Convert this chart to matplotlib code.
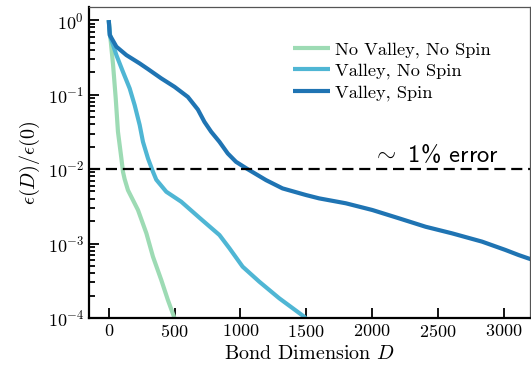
import numpy as np
import matplotlib
matplotlib.use("Agg")
import matplotlib.pyplot as plt

plt.rcParams.update({
    "font.family": "serif",
    "font.serif": ["cmr10"],
    "mathtext.fontset": "cm",
    "axes.unicode_minus": False,
    "axes.formatter.use_mathtext": True,
})

# Bond dimension D and normalized error eps(D)/eps(0) for each model
d_no_valley = [0, 8, 33, 53, 70, 96, 108, 121, 146, 222, 286, 336, 399, 449,
               500, 520]
e_no_valley = [1.0, 0.70, 0.249, 0.089, 0.0317, 0.0139, 0.0092, 0.0073, 0.0052,
               0.00282, 0.00137, 0.000665, 0.000324, 0.000175, 0.0000991,
               0.00008]

d_valley = [0, 8, 58, 108, 159, 197, 235, 260, 298, 336, 361, 437, 551,
            689, 841, 917, 1017, 1144, 1295, 1485, 1520]
e_valley = [1.0, 0.629, 0.339, 0.202, 0.121, 0.072, 0.039, 0.0232, 0.0139,
            0.0092, 0.0072, 0.00496, 0.00364, 0.00222, 0.0013,
            0.000863, 0.000489, 0.000307, 0.000184, 0.000104, 0.00009]

d_valley_spin = [0, 8, 58, 134, 235, 298, 399, 500, 601, 677, 727, 778, 841,
                 904, 967, 1050, 1195, 1320, 1498, 1598, 1801, 2002, 2205, 2407,
                 2608, 2836, 3013, 3114, 3189, 3250]
e_valley_spin = [1.0, 0.63, 0.44, 0.339, 0.262, 0.22, 0.165, 0.127, 0.093,
                 0.063, 0.043, 0.0317, 0.0232, 0.0162, 0.0125, 0.0101, 0.0071,
                 0.0055, 0.00448, 0.00404, 0.00347, 0.00282, 0.00218, 0.00168,
                 0.00137, 0.00106, 0.00082, 0.0007, 0.00063, 0.00058]

labels = ["No Valley, No Spin", "Valley, No Spin", "Valley, Spin"]
colors = ["#9ddbb4", "#4fb6d4", "#1f74b3"]
threshold = 1e-2

fig = plt.figure(figsize=(5.31, 3.71), dpi=100)
ax = fig.add_axes([89 / 531, 1 - 318 / 371, 441 / 531, 311 / 371])

for d, e, lab, c in zip([d_no_valley, d_valley, d_valley_spin],
                        [e_no_valley, e_valley, e_valley_spin], labels, colors):
    ax.plot(d, e, color=c, lw=3.0, label=lab, solid_capstyle="butt",
            solid_joinstyle="round")

ax.axhline(threshold, color="black", lw=1.6, ls=(0, (5, 2.6)))
ax.text(2962, 0.0124, r"$\sim$ 1% error", ha="right", va="baseline",
        fontsize=17.7, family="cmss10")

ax.set_yscale("log")
ax.set_xlim(-150, 3200)
ax.set_ylim(1e-4, 1.5)
ax.set_xticks([0, 500, 1000, 1500, 2000, 2500, 3000])

ax.set_xlabel(r"Bond Dimension $D$", fontsize=14.5)
ax.set_ylabel(r"$\epsilon(D)/\epsilon(0)$", fontsize=14.5)

ax.tick_params(which="both", direction="in", top=False, right=False,
               labelsize=13, width=1.3)
ax.tick_params(which="major", length=7)
ax.tick_params(which="minor", length=4)

for s in ["left", "bottom"]:
    ax.spines[s].set_linewidth(1.6)
    ax.spines[s].set_color("black")
for s in ["top", "right"]:
    ax.spines[s].set_linewidth(0.9)
    ax.spines[s].set_color("#555555")

ax.legend(loc="upper left", bbox_to_anchor=(0.4626, 0.89), frameon=False,
          fontsize=13.2, handlelength=2.0, handletextpad=0.3,
          labelspacing=0.3, borderpad=0, borderaxespad=0)

fig.savefig("out.png", dpi=100)
